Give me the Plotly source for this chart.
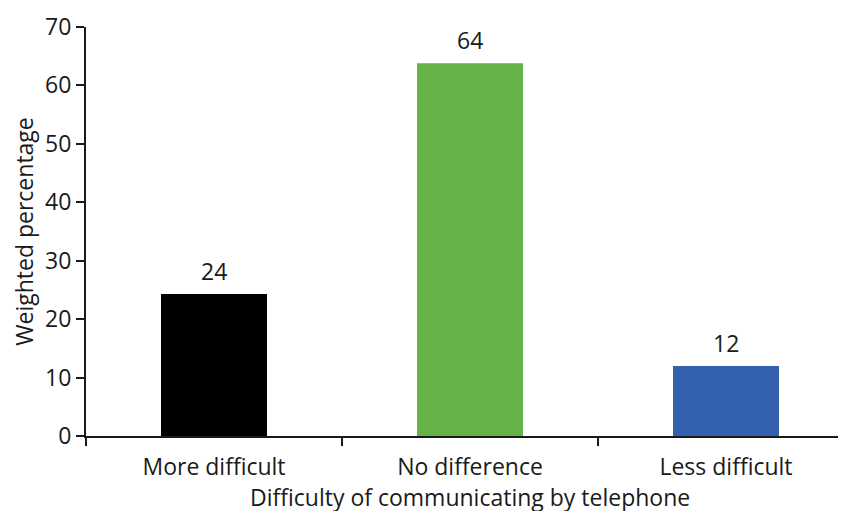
import plotly.graph_objects as go

categories = ["More difficult", "No difference", "Less difficult"]
values = [24.3, 63.8, 12.0]
labels = ["24", "64", "12"]
colors = ["#000000", "#65b347", "#3461ad"]
x_title = "Difficulty of communicating by telephone"
y_title = "Weighted percentage"

FONT = "Open Sans, Noto Sans, DejaVu Sans, sans-serif"
TXT = "#1a1a1a"
FS = 23

fig = go.Figure()
fig.add_trace(go.Bar(
    x=categories, y=values,
    marker=dict(color=colors, line=dict(width=0)),
    width=0.414,
    hoverinfo="skip",
))

for c, v, t in zip(categories, values, labels):
    fig.add_annotation(x=c, y=v, text=t, showarrow=False, yanchor="bottom",
                       yshift=5, font=dict(family=FONT, size=FS, color=TXT))

# x-axis title as an annotation placed near the bottom edge, as in the reference
fig.add_annotation(xref="paper", yref="paper", x=0.5, y=0, xanchor="center", yanchor="top",
                   yshift=-43, text=x_title, showarrow=False,
                   font=dict(family=FONT, size=FS, color=TXT))

# page body has an 8px margin; the plot area runs slightly past the right edge
fig.update_layout(
    width=846, height=503,
    margin=dict(l=78, r=0, t=19, b=75),
    paper_bgcolor="white", plot_bgcolor="white",
    font=dict(family=FONT, size=FS, color=TXT),
    showlegend=False,
    xaxis=dict(
        automargin=False,
        showline=True, linecolor=TXT, linewidth=2,
        ticks="outside", tickson="boundaries", ticklen=8, tickwidth=2, tickcolor=TXT,
        tickfont=dict(family=FONT, size=FS, color=TXT),
        ticklabelstandoff=9,
        showgrid=False, zeroline=False,
        range=[-0.5, 2.5],
    ),
    yaxis=dict(
        automargin=False,
        showline=True, linecolor=TXT, linewidth=2,
        ticks="outside", ticklen=8, tickwidth=2, tickcolor=TXT,
        tickfont=dict(family=FONT, size=FS, color=TXT),
        showgrid=False, zeroline=False,
        range=[0, 70], dtick=10,
        title=dict(text=y_title, standoff=10,
                   font=dict(family=FONT, size=FS, color=TXT)),
    ),
)

fig.write_html("out.html")
